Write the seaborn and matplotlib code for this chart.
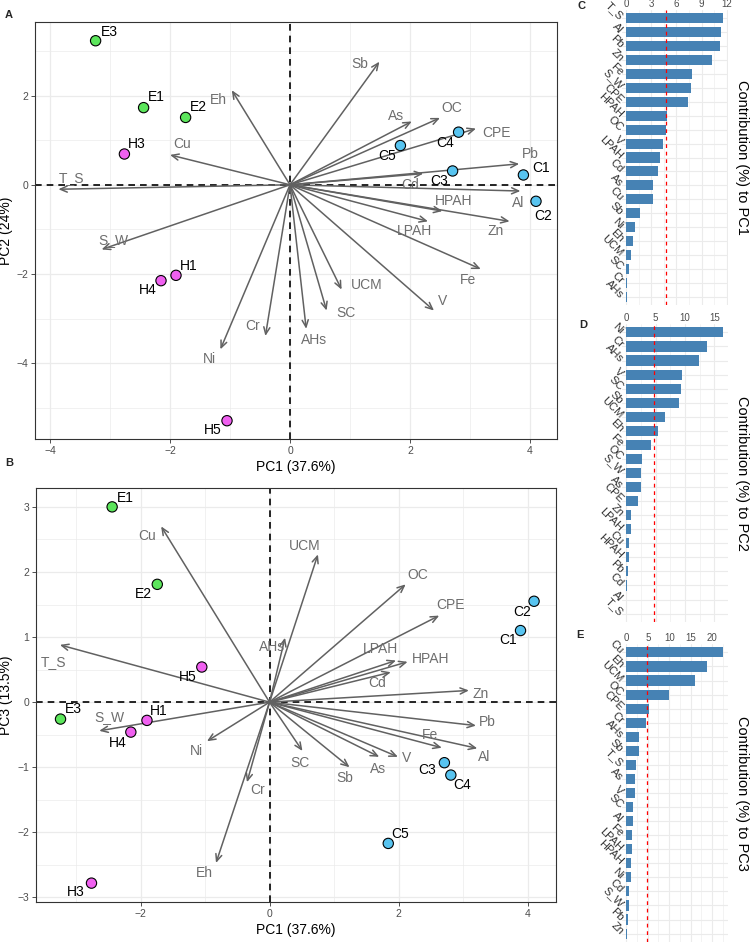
import numpy as np
import pandas as pd
import matplotlib
matplotlib.use('Agg')
import matplotlib.pyplot as plt
import seaborn as sns
from matplotlib.ticker import MultipleLocator, FixedLocator

sns.set_theme(style='white')
plt.rcParams['font.family'] = ['Liberation Sans', 'DejaVu Sans']

# ---------------- data ----------------
samples = ['E1', 'E2', 'E3', 'H1', 'H3', 'H4', 'H5', 'C1', 'C2', 'C3', 'C4', 'C5']
groups = ['E', 'E', 'E', 'H', 'H', 'H', 'H', 'C', 'C', 'C', 'C', 'C']
pc1 = [-2.44, -1.74, -3.24, -1.90, -2.76, -2.15, -1.05, 3.89, 4.10, 2.71, 2.81, 1.84]
pc2 = [1.73, 1.51, 3.23, -2.03, 0.69, -2.15, -5.29, 0.22, -0.37, 0.31, 1.18, 0.88]
pc3 = [3.00, 1.81, -0.26, -0.28, -2.78, -0.46, 0.54, 1.10, 1.55, -0.93, -1.12, -2.17]

# sample label positions
labA_x = [-2.22, -1.52, -3.01, -1.69, -2.56, -2.37, -1.29, 4.19, 4.22, 2.49, 2.58, 1.62]
labA_y = [1.96, 1.75, 3.42, -1.83, 0.91, -2.35, -5.49, 0.38, -0.69, 0.08, 0.94, 0.64]
labB_x = [-2.24, -1.95, -3.04, -1.72, -3.00, -2.35, -1.27, 3.70, 3.91, 2.45, 2.99, 2.03]
labB_y = [3.14, 1.66, -0.10, -0.13, -2.92, -0.62, 0.38, 0.95, 1.39, -1.04, -1.28, -2.02]

variables = ['T_S', 'Al', 'Pb', 'Zn', 'Fe', 'S_W', 'CPE', 'HPAH', 'OC', 'V', 'LPAH',
             'Cd', 'As', 'Cu', 'Sb', 'Ni', 'Eh', 'UCM', 'SC', 'Cr', 'AHs']
# arrows, biplot A (PC1 vs PC2)
arrA_x = [-3.86, 3.84, 3.82, 3.66, 3.18, -3.14, 3.10, 2.54, 2.50, 2.40, 2.30,
          2.22, 2.03, -2.00, 1.49, -1.16, -0.97, 0.86, 0.61, -0.41, 0.27]
arrA_y = [-0.10, -0.14, 0.47, -0.82, -1.89, -1.45, 1.26, -0.59, 1.50, -2.82, -0.82,
          0.25, 1.42, 0.67, 2.76, -3.69, 2.12, -2.35, -2.82, -3.39, -3.23]
vlabA_x = [-3.64, 3.81, 4.01, 3.42, 2.96, -2.94, 3.44, 2.73, 2.69, 2.55, 2.07,
           2.00, 1.77, -1.79, 1.17, -1.34, -1.19, 1.27, 0.93, -0.63, 0.40]
vlabA_y = [0.16, -0.40, 0.70, -1.04, -2.13, -1.23, 1.17, -0.37, 1.73, -2.61, -1.03,
           0.00, 1.54, 0.91, 2.70, -3.90, 1.90, -2.24, -2.87, -3.17, -3.49]
# arrows, biplot B (PC1 vs PC3)
arrB_x = [-3.25, 3.22, 3.20, 3.09, 2.67, -2.64, 2.63, 2.14, 2.11, 1.99, 1.96,
          1.88, 1.70, -1.68, 1.24, -0.97, -0.83, 0.75, 0.51, -0.35, 0.24]
arrB_y = [0.88, -0.71, -0.36, 0.18, -0.70, -0.44, 1.33, 0.62, 1.81, -0.84, 0.64,
          0.46, -0.84, 2.70, -1.00, -0.60, -2.47, 2.27, -0.75, -1.23, 0.99]
vlabB_x = [-3.35, 3.33, 3.37, 3.27, 2.48, -2.48, 2.81, 2.50, 2.29, 2.12, 1.72,
           1.67, 1.68, -1.89, 1.17, -1.14, -1.01, 0.54, 0.47, -0.18, 0.04]
vlabB_y = [0.61, -0.84, -0.31, 0.13, -0.51, -0.23, 1.49, 0.67, 1.96, -0.86, 0.81,
           0.29, -1.02, 2.55, -1.17, -0.75, -2.62, 2.40, -0.93, -1.35, 0.84]

# contributions
c1_labels = ['T_S', 'Al', 'Pb', 'Zn', 'Fe', 'S_W', 'CPE', 'HPAH', 'OC', 'V', 'LPAH',
             'Cd', 'As', 'Cu', 'Sb', 'Ni', 'Eh', 'UCM', 'SC', 'Cr', 'AHs']
c1_values = [11.53, 11.37, 11.20, 10.30, 7.82, 7.74, 7.42, 4.92, 4.76, 4.44, 4.07,
             3.83, 3.19, 3.15, 1.69, 1.05, 0.77, 0.60, 0.32, 0.12, 0.04]
c2_labels = ['Ni', 'Cr', 'AHs', 'V', 'SC', 'Sb', 'UCM', 'Eh', 'Fe', 'OC', 'S_W',
             'As', 'CPE', 'Zn', 'LPAH', 'Cu', 'HPAH', 'Pb', 'Cd', 'Al', 'T_S']
c2_values = [16.40, 13.76, 12.36, 9.44, 9.33, 9.04, 6.57, 5.45, 4.21, 2.64, 2.58,
             2.42, 1.91, 0.79, 0.73, 0.51, 0.39, 0.28, 0.06, 0.03, 0.01]
c3_labels = ['Cu', 'Eh', 'UCM', 'OC', 'CPE', 'Cr', 'AHs', 'Sb', 'T_S', 'As', 'V',
             'SC', 'Al', 'Fe', 'LPAH', 'HPAH', 'Ni', 'Cd', 'S_W', 'Pb', 'Zn']
c3_values = [22.46, 18.70, 16.10, 10.00, 5.38, 4.60, 3.00, 2.92, 2.30, 2.00, 1.98,
             1.67, 1.52, 1.44, 1.29, 1.14, 1.06, 0.68, 0.61, 0.46, 0.05]
expected = 100 / 21

palette = {'E': '#5CE65C', 'H': '#F060F0', 'C': '#58C4F0'}

W, H = 750, 944
fig = plt.figure(figsize=(W / 100, H / 100), dpi=100)


def rect(l, t, r, b):
    return [l / W, 1 - b / H, (r - l) / W, (b - t) / H]


df = pd.DataFrame({'sample': samples, 'group': groups, 'pc1': pc1, 'pc2': pc2, 'pc3': pc3})


def biplot(ax, ycol, ax_x, ax_y, vl_x, vl_y, sl_x, sl_y, xlim, ylim, xmaj, ymaj, yminstep, ylab, ylab_x):
    ax.set_xlim(*xlim)
    ax.set_ylim(*ylim)
    ax.xaxis.set_major_locator(FixedLocator(xmaj))
    ax.yaxis.set_major_locator(FixedLocator(ymaj))
    ax.xaxis.set_minor_locator(MultipleLocator(1))
    ax.yaxis.set_minor_locator(MultipleLocator(yminstep))
    ax.grid(which='major', color='#EBEBEB', lw=0.9, zorder=0)
    ax.grid(which='minor', color='#EBEBEB', lw=0.5, zorder=0)
    ax.set_axisbelow(True)
    for s in ax.spines.values():
        s.set_color('#333333')
        s.set_linewidth(0.8)
    ax.tick_params(which='major', length=3, width=0.6, color='#333333',
                   labelsize=7.5, labelcolor='#4D4D4D', pad=2, bottom=True, left=True)
    ax.tick_params(which='minor', length=0)
    ax.axhline(0, color='black', ls=(0, (4, 3)), lw=1.2, zorder=1)
    ax.axvline(0, color='black', ls=(0, (4, 3)), lw=1.2, zorder=1)
    for x, y in zip(ax_x, ax_y):
        ax.annotate('', xy=(x, y), xytext=(0, 0),
                    arrowprops=dict(arrowstyle='->,head_length=0.5,head_width=0.22',
                                    color='#616161', lw=1.1, shrinkA=0, shrinkB=0,
                                    mutation_scale=10), zorder=2)
    for name, x, y in zip(variables, vl_x, vl_y):
        ax.text(x, y, name, color='#6E6E6E', fontsize=10, ha='center', va='center', zorder=3)
    sns.scatterplot(data=df, x='pc1', y=ycol, hue='group', palette=palette, s=55,
                    edgecolor='black', linewidth=0.8, legend=False, ax=ax, zorder=4)
    for name, x, y in zip(samples, sl_x, sl_y):
        ax.text(x, y, name, color='black', fontsize=10, ha='center', va='center', zorder=5)
    ax.set_xlabel('PC1 (37.6%)', fontsize=10, color='black', labelpad=3)
    ax.set_ylabel(ylab, fontsize=10, color='black')
    ax.yaxis.set_label_coords(ylab_x, 0.5)


axA = fig.add_axes(rect(35, 22, 557, 439))
biplot(axA, 'pc2', arrA_x, arrA_y, vlabA_x, vlabA_y, labA_x, labA_y,
       (-4.25, 4.45), (-5.7, 3.65), [-4, -2, 0, 2, 4], [-4, -2, 0, 2], 1, 'PC2 (24%)',
       (13 - 35) / 522)

axB = fig.add_axes(rect(36, 488, 556, 902))
biplot(axB, 'pc3', arrB_x, arrB_y, vlabB_x, vlabB_y, labB_x, labB_y,
       (-3.62, 4.44), (-3.07, 3.29), [-2, 0, 2, 4], [-3, -2, -1, 0, 1, 2, 3], 0.5, 'PC3 (13.5%)',
       (13 - 36) / 520)


def contrib(ax, labels, values, xmaj, minstep, title):
    d = pd.DataFrame({'var': labels, 'val': values})
    sns.barplot(data=d, x='val', y='var', orient='h', color='#4682B4', saturation=1,
                width=0.72, linewidth=0, ax=ax, zorder=2)
    vmax = max(values)
    ax.set_xlim(-0.05 * vmax, 1.05 * vmax)
    ax.set_ylim(len(labels) - 0.4, -0.6)
    ax.xaxis.set_major_locator(FixedLocator(xmaj))
    ax.xaxis.set_minor_locator(MultipleLocator(minstep))
    ax.grid(which='major', axis='both', color='#EBEBEB', lw=0.8, zorder=0)
    ax.grid(which='minor', axis='x', color='#EBEBEB', lw=0.4, zorder=0)
    ax.set_axisbelow(True)
    for s in ax.spines.values():
        s.set_visible(False)
    ax.xaxis.tick_top()
    ax.tick_params(axis='x', which='both', length=0, labelsize=7, labelcolor='#4D4D4D', pad=1)
    ax.tick_params(axis='y', length=0, labelsize=8, labelcolor='#333333', pad=0)
    for lbl in ax.get_yticklabels():
        lbl.set_rotation(-45)
        lbl.set_ha('right')
        lbl.set_va('center')
        lbl.set_rotation_mode('anchor')
    ax.axvline(expected, color='red', ls=(0, (3, 3)), lw=0.9, zorder=3)
    ax.set_xlabel('')
    ax.set_ylabel('')
    pos = ax.get_position()
    fig.text(0.989, pos.y0 + pos.height / 2, title, rotation=270, fontsize=10.5,
             ha='center', va='center', color='black')


axC = fig.add_axes(rect(621.5, 10, 727.5, 305))
contrib(axC, c1_labels, c1_values, [0, 3, 6, 9, 12], 1.5, 'Contribution (%) to PC1')
axD = fig.add_axes(rect(621.5, 324, 727.5, 622))
contrib(axD, c2_labels, c2_values, [0, 5, 10, 15], 2.5, 'Contribution (%) to PC2')
axE = fig.add_axes(rect(621.5, 644, 727.5, 942))
contrib(axE, c3_labels, c3_values, [0, 5, 10, 15, 20], 2.5, 'Contribution (%) to PC3')

for letter, x, y in [('A', 5, 15), ('B', 5, 463), ('C', 577, 6), ('D', 579, 325), ('E', 576, 635)]:
    fig.text(x / W, 1 - y / H, letter, fontsize=8, fontweight='bold', ha='left', va='center')

fig.savefig('out.png', dpi=100)
